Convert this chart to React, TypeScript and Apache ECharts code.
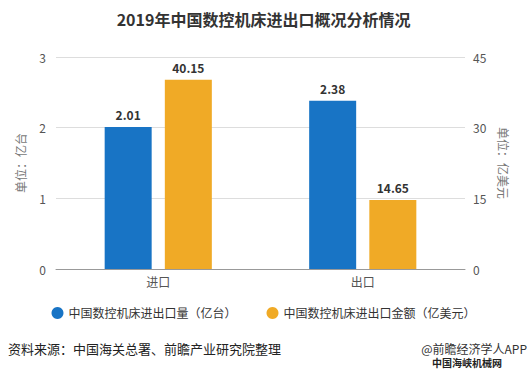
import React, { useEffect, useRef } from "react";
import * as echarts from "echarts";

const categories = ["进口", "出口"];
const quantityValues = [2.01, 2.38];
const amountValues = [40.15, 14.65];
const seriesNames = ["中国数控机床进出口量（亿台）", "中国数控机床进出口金额（亿美元）"];
const titleText = "2019年中国数控机床进出口概况分析情况";
const sourceText = "资料来源：中国海关总署、前瞻产业研究院整理";
const brandText = "@前瞻经济学人APP";
const siteText = "中国海峡机械网";

export default function App() {
  const ref = useRef<HTMLDivElement>(null);
  useEffect(() => {
    if (!ref.current) return;
    const chart = echarts.init(ref.current, null, { renderer: "svg" });
    const labelStyle = {
      show: true,
      position: "top",
      distance: 6,
      color: "#333",
      fontWeight: "bold",
      fontSize: 12,
      fontFamily: "Noto Sans CJK SC",
    };
    chart.setOption({
      animation: false,
      backgroundColor: "#fff",
      textStyle: { fontFamily: "Noto Sans CJK SC" },
      title: {
        text: titleText,
        left: "center",
        top: 6,
        textStyle: { fontSize: 16, fontWeight: "bold", color: "#333", fontFamily: "Noto Sans CJK SC" },
      },
      legend: {
        bottom: 46,
        left: "center",
        icon: "circle",
        itemWidth: 12,
        itemHeight: 12,
        itemGap: 30,
        textStyle: { fontSize: 12, color: "#333" },
        data: seriesNames,
      },
      grid: { left: 56, right: 62, top: 57, bottom: 101 },
      xAxis: {
        type: "category",
        data: categories,
        axisLine: { lineStyle: { color: "#999" } },
        axisTick: { alignWithLabel: true, lineStyle: { color: "#999" } },
        axisLabel: { color: "#555", fontSize: 12, margin: 6 },
      },
      yAxis: [
        {
          type: "value",
          min: 0,
          max: 3,
          interval: 1,
          name: "单位：亿台",
          nameLocation: "middle",
          nameRotate: 90,
          nameGap: 30,
          nameTextStyle: { color: "#777", fontSize: 12 },
          axisLine: { show: false },
          axisTick: { show: false },
          axisLabel: { color: "#555", fontSize: 12, margin: 10 },
          splitLine: { lineStyle: { color: "#ddd" } },
        },
        {
          type: "value",
          min: 0,
          max: 45,
          interval: 15,
          name: "单位：亿美元",
          nameLocation: "middle",
          nameRotate: -90,
          nameGap: 30,
          nameTextStyle: { color: "#777", fontSize: 12 },
          axisLine: { show: false },
          axisTick: { show: false },
          axisLabel: { color: "#555", fontSize: 12, margin: 8 },
          splitLine: { show: false },
        },
      ],
      series: [
        {
          name: seriesNames[0],
          type: "bar",
          yAxisIndex: 0,
          data: quantityValues,
          barWidth: 47,
          barGap: "28%",
          itemStyle: { color: "#1874c5" },
          label: labelStyle,
        },
        {
          name: seriesNames[1],
          type: "bar",
          yAxisIndex: 1,
          data: amountValues,
          barWidth: 47,
          itemStyle: { color: "#f0aa26" },
          label: labelStyle,
        },
      ],
      graphic: [
        {
          type: "text",
          left: 8,
          top: 341,
          style: { text: sourceText, fontSize: 13, lineHeight: 15, fill: "#222", fontFamily: "Noto Sans CJK SC" },
        },
        {
          type: "text",
          right: 0,
          top: 341,
          style: { text: brandText, fontSize: 12, lineHeight: 14, fill: "#333", fontFamily: "Noto Sans CJK SC" },
        },
        {
          type: "text",
          left: 432,
          top: 357,
          style: { text: siteText, fontSize: 10, lineHeight: 11, fontWeight: "bold", fill: "#222", fontFamily: "Noto Sans CJK SC" },
        },
      ],
    });
    return () => chart.dispose();
  }, []);
  return <div ref={ref} style={{ width: 527, height: 370, position: "absolute", left: 0, top: 0 }} />;
}
